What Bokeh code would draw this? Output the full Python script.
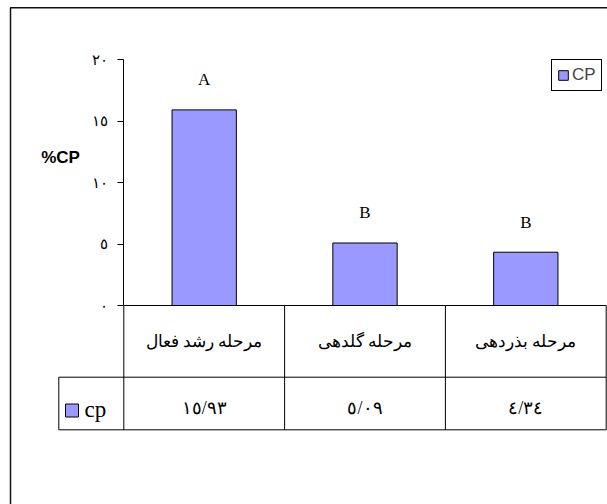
from bokeh.plotting import figure
from bokeh.models import Range1d, LinearAxis, FixedTicker, Legend, LegendItem, ColumnDataSource
from bokeh.core.properties import value
from bokeh.embed import file_html
from bokeh.resources import INLINE

# ---- data ----
stages = ["مرحله رشد فعال", "مرحله گلدهی", "مرحله بذردهی"]
cp = [15.93, 5.09, 4.34]
groups = ["A", "B", "B"]
y_ticks = [0, 5, 10, 15, 20]
series_name = "CP"
row_name = "cp"
axis_title = "%CP"

AR = str.maketrans("0123456789.", "٠١٢٣٤٥٦٧٨٩/")


def ar(v):
    return str(v).translate(AR)


# ---- layout helpers (pixel -> data) ----
W, H = 607, 504
X0, XS = 123.3, 160.8
Y0, YS = 305.0, 12.28


def X(px):
    return (px - X0) / XS


def Y(py):
    return (Y0 - py) / YS


SERIF = value("Liberation Serif")
SANS = value("Liberation Sans")
BAR = "#9999FF"

p = figure(width=W, height=H, output_backend="svg", toolbar_location=None,
           x_range=Range1d(X(0), X(W)), y_range=Range1d(Y(H), Y(0)),
           x_axis_location=None, y_axis_location=None,
           min_border=0, min_border_left=0, min_border_right=0,
           min_border_top=0, min_border_bottom=0,
           outline_line_color=None, background_fill_color="white",
           border_fill_color="white")
p.grid.visible = False

n = len(stages)
xs = [i + 0.5 for i in range(n)]
src = ColumnDataSource(dict(x=xs, top=cp, stage=stages, group=groups,
                            val=[ar(v) for v in cp]))

# outer chart border
p.quad(left=X(10), right=X(W + 5), top=Y(7.3), bottom=Y(H + 5),
       fill_color=None, line_color="#111111", line_width=1.5)

# bars
bars = p.vbar(x="x", top="top", bottom=0, width=0.40, source=src,
              fill_color=BAR, line_color="black", line_width=1)

# significance letters
p.text(x="x", y="top", text="group", source=src, y_offset=-30,
       text_align="center", text_baseline="middle",
       text_font=SERIF, text_font_size="17px", text_color="black")

# y axis
yax = LinearAxis(fixed_location=0, ticker=FixedTicker(ticks=y_ticks),
                 bounds=(min(y_ticks), max(y_ticks)),
                 major_label_overrides={t: ar(t) for t in y_ticks},
                 major_tick_out=6, major_tick_in=0,
                 minor_tick_out=0, minor_tick_in=0,
                 axis_line_color="black", major_tick_line_color="black",
                 major_label_standoff=10,
                 major_label_text_font="Liberation Serif",
                 major_label_text_font_size="15px",
                 major_label_text_color="black")
p.add_layout(yax, "left")

p.text(x=[X(60)], y=[Y(157)], text=[axis_title], text_align="center",
       text_baseline="middle", text_font=SANS, text_font_size="17px",
       text_font_style="bold", text_color="black")

# data table below the chart
row_y = Y(376.7)
bot_y = Y(429.3)
key_left = X(58.3)
sx0 = [0, key_left, key_left, key_left] + list(range(n + 1))
sx1 = [n, n, n, key_left] + list(range(n + 1))
sy0 = [0, row_y, bot_y, row_y] + [0] * (n + 1)
sy1 = [0, row_y, bot_y, bot_y] + [bot_y] * (n + 1)
p.segment(x0=sx0, y0=sy0, x1=sx1, y1=sy1, line_color="black", line_width=1)

p.text(x="x", y=Y(341), text="stage", source=src, text_align="center",
       text_baseline="middle", text_font=SERIF, text_font_size="17px",
       text_color="black")
p.text(x="x", y=Y(407), text="val", source=src, text_align="center",
       text_baseline="middle", text_font=SERIF, text_font_size="18px",
       text_color="black")

p.quad(left=X(65), right=X(78), top=Y(403.5), bottom=Y(416.5),
       fill_color=BAR, line_color="black", line_width=1)
p.text(x=[X(84)], y=[Y(409)], text=[row_name], text_align="left",
       text_baseline="middle", text_font=SERIF, text_font_size="23px",
       text_color="black")

# legend
legend = Legend(items=[LegendItem(label=series_name, renderers=[bars])],
                location=(551, H - 91), padding=5, margin=0, spacing=0,
                glyph_width=12, glyph_height=12, label_standoff=3,
                label_text_font="Liberation Sans", label_text_font_size="17px",
                border_line_color="black", border_line_width=1,
                border_line_alpha=1.0,
                background_fill_color="white", background_fill_alpha=1)
p.add_layout(legend)

open("out.html", "w").write(file_html(p, INLINE))
